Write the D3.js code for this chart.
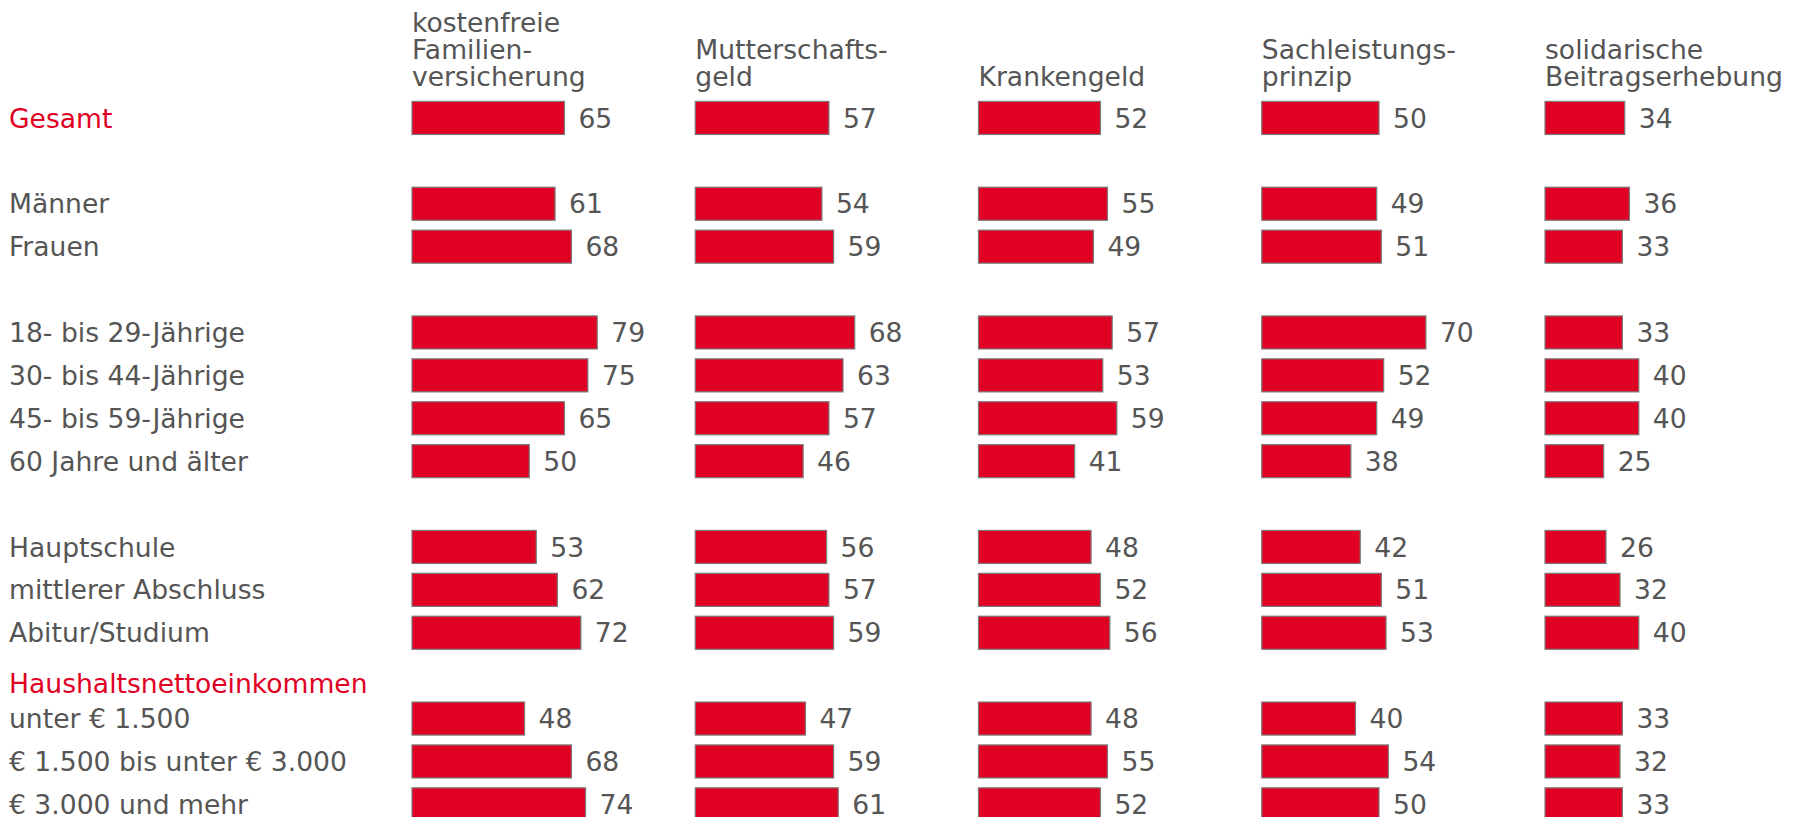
<!DOCTYPE html>
<html>
<head>
<meta charset="utf-8">
<script src="https://cdn.jsdelivr.net/npm/d3@7"></script>
<style>
  body { margin: 0; background: #fff; }
  svg text { font-family: "DejaVu Sans", Verdana, sans-serif; }
</style>
</head>
<body>
<svg id="chart"></svg>
<script>
// Row labels (null = empty spacer row)
var rowLabels = ["Gesamt", null, "Männer", "Frauen", null,
                 "18- bis 29-Jährige", "30- bis 44-Jährige", "45- bis 59-Jährige", "60 Jahre und älter", null,
                 "Hauptschule", "mittlerer Abschluss", "Abitur/Studium", "Haushaltsnettoeinkommen",
                 "unter € 1.500", "€ 1.500 bis unter € 3.000", "€ 3.000 und mehr"];
var redRows = ["Gesamt", "Haushaltsnettoeinkommen"];
var headingRows = ["Haushaltsnettoeinkommen"];

var columns = [
    ["kostenfreie", "Familien-", "versicherung"],
    ["Mutterschafts-", "geld"],
    ["Krankengeld"],
    ["Sachleistungs-", "prinzip"],
    ["solidarische", "Beitragserhebung"]
];

// values per column, in order of the bar rows
var familienversicherung = [65, 61, 68, 79, 75, 65, 50, 53, 62, 72, 48, 68, 74];
var mutterschaftsgeld    = [57, 54, 59, 68, 63, 57, 46, 56, 57, 59, 47, 59, 61];
var krankengeld          = [52, 55, 49, 57, 53, 59, 41, 48, 52, 56, 48, 55, 52];
var sachleistung         = [50, 49, 51, 70, 52, 49, 38, 42, 51, 53, 40, 54, 50];
var solidarisch          = [34, 36, 33, 33, 40, 40, 25, 26, 32, 40, 33, 32, 33];
var series = [familienversicherung, mutterschaftsgeld, krankengeld, sachleistung, solidarisch];

var width = 1796, height = 817;
var red = "#e00024", grey = "#555555";
var fontSize = 26.6;

var svg = d3.select("#chart").attr("width", width).attr("height", height);

// row positions
var y = d3.scaleBand()
          .domain(d3.range(rowLabels.length))
          .range([96.5, 96.5 + 42.9 * rowLabels.length])
          .paddingInner(0.23)
          .paddingOuter(0.115);

// column start positions and bar length scale
var colX = d3.scaleLinear().domain([0, 4]).range([412, 1545]);
var x = d3.scaleLinear().domain([0, 100]).range([0, 234.5]);

// rows that carry bars
var barRows = [];
rowLabels.forEach(function(l, i) {
    if (l !== null && !headingRows.includes(l)) barRows.push(i);
});

// row labels
svg.append("g").selectAll("text")
   .data(rowLabels.map(function(l, i) { return {label: l, i: i}; }).filter(function(d) { return d.label !== null; }))
   .enter().append("text")
     .attr("x", 9)
     .attr("y", function(d) {
         var c = y(d.i) + y.bandwidth() / 2;
         return headingRows.includes(d.label) ? c + 8 : c;
     })
     .attr("dy", "0.36em")
     .attr("font-size", fontSize)
     .attr("fill", function(d) { return redRows.includes(d.label) ? red : grey; })
     .text(function(d) { return d.label; });

// column headers, bottom line aligned
var headers = svg.append("g");
columns.forEach(function(lines, c) {
    var t = headers.append("text")
                   .attr("x", colX(c))
                   .attr("font-size", fontSize)
                   .attr("fill", grey);
    lines.forEach(function(line, k) {
        t.append("tspan")
         .attr("x", colX(c))
         .attr("y", 86 - (lines.length - 1 - k) * 27)
         .text(line);
    });
});

// bars + value labels
series.forEach(function(vals, c) {
    var g = svg.append("g").attr("transform", "translate(" + colX(c) + ",0)");
    var data = vals.map(function(v, k) { return {v: v, row: barRows[k]}; });

    g.selectAll("rect")
     .data(data)
     .enter().append("rect")
       .attr("x", 0)
       .attr("y", function(d) { return y(d.row); })
       .attr("width", function(d) { return x(d.v); })
       .attr("height", y.bandwidth())
       .attr("fill", red)
       .attr("stroke", "#7a7a7a")
       .attr("stroke-width", 1.2);

    g.selectAll(".val")
     .data(data)
     .enter().append("text")
       .classed("val", true)
       .attr("x", function(d) { return x(d.v) + 14; })
       .attr("y", function(d) { return y(d.row) + y.bandwidth() / 2; })
       .attr("dy", "0.36em")
       .attr("font-size", fontSize)
       .attr("fill", grey)
       .text(function(d) { return d.v; });
});
</script>
</body>
</html>
